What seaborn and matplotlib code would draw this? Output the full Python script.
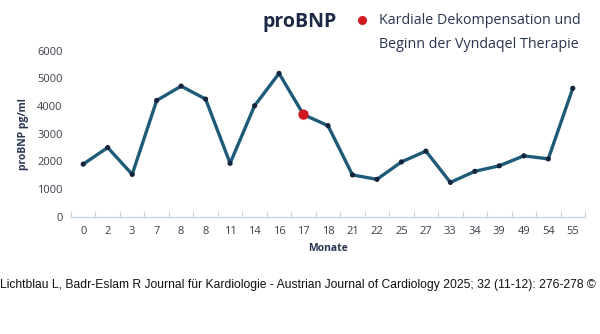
import matplotlib
matplotlib.use("Agg")
import matplotlib.pyplot as plt
import seaborn as sns
import numpy as np
import pandas as pd
from matplotlib.lines import Line2D
from matplotlib.ticker import FixedLocator

months = ["0", "2", "3", "7", "8", "8", "11", "14", "16", "17", "18",
          "21", "22", "25", "27", "33", "34", "39", "49", "54", "55"]
probnp = [1900, 2500, 1530, 4200, 4720, 4250, 1930, 4010, 5180, 3690, 3290,
          1510, 1350, 1980, 2370, 1240, 1640, 1840, 2200, 2090, 4640]
event_month = "17"
event_label = "Kardiale Dekompensation und\nBeginn der Vyndaqel Therapie"
title = "proBNP"
ylabel = "proBNP pg/ml"
xlabel = "Monate"
yticks = [0, 1000, 2000, 3000, 4000, 5000, 6000]
footer = "Lichtblau L, Badr-Eslam R Journal für Kardiologie - Austrian Journal of Cardiology 2025; 32 (11-12): 276-278 ©"

sns.set_theme(style="white")
plt.rcParams["font.family"] = ["Open Sans", "DejaVu Sans"]

df = pd.DataFrame({"pos": np.arange(len(months)), "month": months, "value": probnp})

fig = plt.figure(figsize=(6.0, 3.34), dpi=100)
ax = fig.add_axes([71/600, 1-216.7/334, (585-71)/600, (216.7-50.7)/334])

line_col = "#1e5b78"
sns.lineplot(data=df, x="pos", y="value", ax=ax, color=line_col, linewidth=2.4,
             sort=False, zorder=2)
sns.scatterplot(data=df, x="pos", y="value", ax=ax, color="#15243b", s=14,
                edgecolor="none", zorder=3, legend=False)
ev = df[df["month"] == event_month]
sns.scatterplot(data=ev, x="pos", y="value", ax=ax, color="#d0181e", s=55,
                edgecolor="none", zorder=4, legend=False)

ax.set_xlim(-0.5, len(months) - 0.5)
ax.set_ylim(0, 6000)
ax.set_xticks(df["pos"])
ax.set_xticklabels(months)
ax.set_yticks(yticks)
ax.set_yticklabels([str(v) for v in yticks])
ax.xaxis.set_minor_locator(FixedLocator(np.arange(-0.5, len(months), 1.0)))
ax.tick_params(axis="x", which="major", length=0, pad=7, labelsize=8, labelcolor="#3a3f4a")
ax.tick_params(axis="x", which="minor", length=4, width=0.8, color="#c9d4e2", direction="in")
ax.tick_params(axis="x", which="minor", bottom=True)
ax.tick_params(axis="y", length=0, pad=6, labelsize=8, labelcolor="#3a3f4a")
for s in ["top", "right", "left"]:
    ax.spines[s].set_visible(False)
ax.spines["bottom"].set_color("#c9d4e2")
ax.spines["bottom"].set_linewidth(1.0)
ax.grid(False)

ax.set_xlabel(xlabel, fontsize=7.5, fontweight="bold", color="#2a3552", labelpad=4)
ax.set_ylabel(ylabel, fontsize=7.5, fontweight="bold", color="#2a3552", labelpad=6)

fig.text(300/600, 1-22/334, title, ha="center", va="center", fontsize=14,
         fontweight="bold", color="#1e2a45")

# legend entry for the event marker
fig.add_artist(Line2D([362/600], [1-20/334], marker="o", linestyle="none",
                      color="#d0181e", markersize=6.5, markeredgewidth=0,
                      transform=fig.transFigure))
fig.text(379/600, 1-13/334, event_label, ha="left", va="top", fontsize=10.3,
         color="#2a3552", linespacing=1.78)

fig.text(0/600, 1-285/334, footer, ha="left", va="center", fontsize=8.75,
         family=["Liberation Sans", "DejaVu Sans"], color="#111111")

fig.savefig("out.png", dpi=100)
